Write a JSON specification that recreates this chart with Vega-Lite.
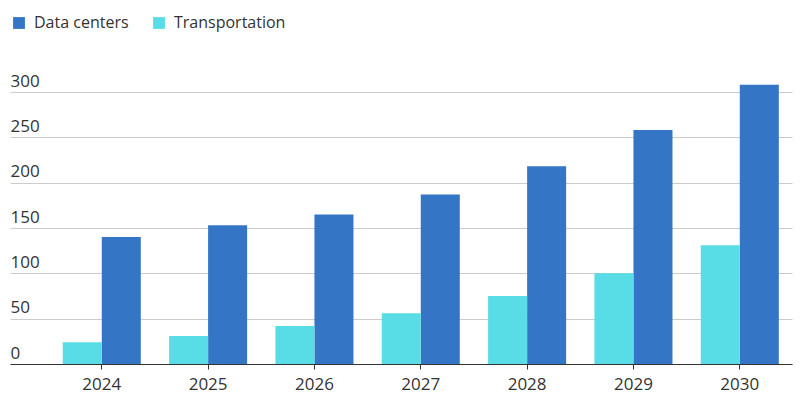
{
  "$schema": "https://vega.github.io/schema/vega-lite/v6.json",
  "width": 782,
  "height": 272,
  "autosize": {"type": "none"},
  "padding": {"left": 10, "top": 92, "right": 8, "bottom": 51},
  "background": "white",
  "config": {
    "view": {"stroke": null},
    "font": "Open Sans"
  },
  "data": {
    "values": [
      {"year": "2024", "series": "Data centers", "value": 140},
      {"year": "2024", "series": "Transportation", "value": 24},
      {"year": "2025", "series": "Data centers", "value": 153},
      {"year": "2025", "series": "Transportation", "value": 31},
      {"year": "2026", "series": "Data centers", "value": 165},
      {"year": "2026", "series": "Transportation", "value": 42},
      {"year": "2027", "series": "Data centers", "value": 187},
      {"year": "2027", "series": "Transportation", "value": 56},
      {"year": "2028", "series": "Data centers", "value": 218},
      {"year": "2028", "series": "Transportation", "value": 75},
      {"year": "2029", "series": "Data centers", "value": 258},
      {"year": "2029", "series": "Transportation", "value": 100},
      {"year": "2030", "series": "Data centers", "value": 308},
      {"year": "2030", "series": "Transportation", "value": 131}
    ]
  },
  "mark": {"type": "bar"},
  "encoding": {
    "x": {
      "field": "year",
      "type": "nominal",
      "scale": {"paddingInner": 0.266, "paddingOuter": 0.31, "align": 0.8},
      "axis": {
        "title": null,
        "labelAngle": 0,
        "labelFontSize": 17,
        "labelFontWeight": 500,
        "labelColor": "#333333",
        "labelPadding": 7,
        "tickSize": 5,
        "tickColor": "#333333",
        "domainColor": "#333333",
        "domainWidth": 1.2,
        "grid": false
      }
    },
    "xOffset": {
      "field": "series",
      "type": "nominal",
      "sort": ["Transportation", "Data centers"],
      "scale": {"paddingInner": 0, "paddingOuter": 0}
    },
    "y": {
      "field": "value",
      "type": "quantitative",
      "scale": {"domain": [0, 300], "nice": false},
      "axis": {
        "title": null,
        "values": [0, 50, 100, 150, 200, 250, 300],
        "domain": false,
        "ticks": false,
        "grid": true,
        "gridColor": "#cccccc",
        "gridWidth": 1,
        "labelAlign": "left",
        "labelBaseline": "alphabetic",
        "labelPadding": 0,
        "labelOffset": -6,
        "labelFontSize": 17,
        "labelFontWeight": 500,
        "labelColor": "#333333"
      }
    },
    "color": {
      "field": "series",
      "type": "nominal",
      "scale": {"domain": ["Data centers", "Transportation"], "range": ["#3476C5", "#58DCE6"]},
      "legend": {
        "title": null,
        "orient": "none",
        "direction": "horizontal",
        "legendX": 1,
        "legendY": -77,
        "symbolType": "square",
        "symbolSize": 140,
        "symbolStrokeWidth": 0,
        "symbolOpacity": 1,
        "labelFontSize": 16,
        "labelFontWeight": 500,
        "labelColor": "#333333",
        "labelOffset": 7,
        "columnPadding": 22
      }
    }
  }
}
